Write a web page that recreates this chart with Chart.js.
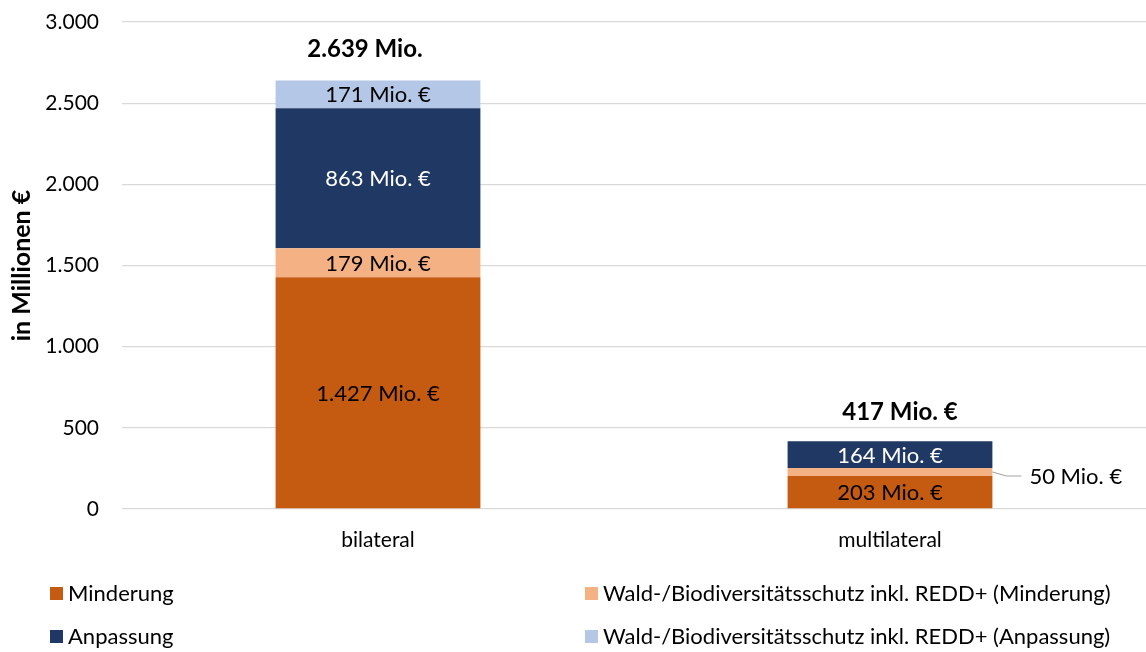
<!DOCTYPE html>
<html>
<head>
<meta charset="utf-8">
<script src="https://cdn.jsdelivr.net/npm/chart.js@4.4.1/dist/chart.umd.min.js"></script>
<style>
  html, body { margin: 0; padding: 0; background: #ffffff; }
  #wrap { width: 1146px; height: 652px; position: relative; }
</style>
</head>
<body>
<div id="wrap"><canvas id="c" width="1146" height="652"></canvas></div>
<script>
// ---- data ----
const categories = ['bilateral', 'multilateral'];
const seriesNames = [
  'Minderung',
  'Wald-/Biodiversitätsschutz inkl. REDD+ (Minderung)',
  'Anpassung',
  'Wald-/Biodiversitätsschutz inkl. REDD+ (Anpassung)'
];
const minderung = [1427, 203];
const waldMinderung = [179, 50];
const anpassung = [863, 164];
const waldAnpassung = [171, 0];
const totalLabels = ['2.639 Mio.', '417 Mio. €'];
const yTickValues = [0, 500, 1000, 1500, 2000, 2500, 3000];
const yTitle = 'in Millionen €';
const seriesColors = ['#C55A11', '#F4B183', '#203864', '#B4C7E7'];
const labelColors = ['#000000', '#000000', '#ffffff', '#000000'];

const FONT = 'Lato, Carlito, Calibri, "Open Sans", sans-serif';

function deNum(v) {
  return String(Math.round(v)).replace(/\B(?=(\d{3})+(?!\d))/g, '.');
}

const valueLabels = {
  id: 'valueLabels',
  afterDatasetsDraw(chart) {
    const ctx = chart.ctx;
    ctx.save();
    ctx.font = '22px ' + FONT;
    ctx.textAlign = 'center';
    ctx.textBaseline = 'middle';
    chart.data.datasets.forEach((ds, di) => {
      const meta = chart.getDatasetMeta(di);
      meta.data.forEach((el, i) => {
        const v = ds.data[i];
        if (!v) return;
        const h = Math.abs(el.base - el.y);
        const txt = deNum(v) + ' Mio. €';
        if (h >= 22) {
          ctx.fillStyle = labelColors[di];
          ctx.fillText(txt, el.x, (el.y + el.base) / 2 + 1);
        } else {
          const right = el.x + el.width / 2;
          const my = (el.y + el.base) / 2;
          ctx.strokeStyle = '#A6A6A6';
          ctx.lineWidth = 1.2;
          ctx.beginPath();
          ctx.moveTo(right, my);
          ctx.lineTo(right + 14, my + 4);
          ctx.lineTo(right + 29, my + 4);
          ctx.stroke();
          ctx.fillStyle = '#000000';
          ctx.textAlign = 'left';
          ctx.fillText(txt, right + 37, my + 5);
          ctx.textAlign = 'center';
        }
      });
    });
    ctx.font = 'bold 24px ' + FONT;
    ctx.fillStyle = '#000000';
    const base = chart.getDatasetMeta(0);
    categories.forEach((c, i) => {
      let topY = Infinity;
      chart.data.datasets.forEach((ds, di) => {
        const el = chart.getDatasetMeta(di).data[i];
        if (ds.data[i] > 0) topY = Math.min(topY, el.y);
      });
      const x = base.data[i].x + (i === 0 ? -13 : 10);
      ctx.fillText(totalLabels[i], x, topY - (i === 0 ? 31 : 29));
    });
    ctx.restore();
  }
};

const customLegend = {
  id: 'customLegend',
  afterDraw(chart) {
    const ctx = chart.ctx;
    ctx.save();
    ctx.font = '22px ' + FONT;
    ctx.textBaseline = 'middle';
    ctx.textAlign = 'left';
    const colX = [50, 585];
    const rowY = [594, 637];
    chart.data.datasets.forEach((ds, di) => {
      const x = colX[di % 2];
      const y = rowY[Math.floor(di / 2)];
      ctx.fillStyle = ds.backgroundColor;
      ctx.fillRect(x, y - 7, 13, 13);
      ctx.fillStyle = '#000000';
      ctx.fillText(ds.label, x + 18, y);
    });
    ctx.restore();
  }
};

const datasets = [minderung, waldMinderung, anpassung, waldAnpassung].map((arr, i) => ({
  label: seriesNames[i],
  data: arr,
  backgroundColor: seriesColors[i],
  borderWidth: 0,
  categoryPercentage: 1.0,
  barPercentage: 0.4
}));

new Chart(document.getElementById('c'), {
  type: 'bar',
  data: { labels: categories, datasets },
  options: {
    responsive: false,
    animation: false,
    layout: { padding: { top: 22, right: 0, bottom: 0, left: 0 } },
    plugins: { legend: { display: false }, tooltip: { enabled: false } },
    scales: {
      x: {
        stacked: true,
        grid: { display: false, drawTicks: false },
        border: { display: false },
        ticks: { color: '#000000', font: { family: FONT, size: 21 }, padding: 19 },
        afterFit(scale) { scale.height = 143; scale.paddingLeft = 0; scale.paddingRight = 0; }
      },
      y: {
        stacked: true,
        min: 0, max: 3000,
        afterBuildTicks(scale) { scale.ticks = yTickValues.map(v => ({ value: v })); },
        grid: { color: '#D9D9D9', lineWidth: 1.3, drawTicks: false },
        border: { display: false },
        ticks: { color: '#000000', font: { family: FONT, size: 21 }, padding: 23, callback: v => deNum(v) },
        title: { display: true, text: yTitle, color: '#000000', font: { family: FONT, size: 25, weight: 'bold' }, padding: { top: 7, bottom: 0 } },
        afterFit(scale) { scale.width = 122; scale.paddingTop = 0; scale.paddingBottom = 0; }
      }
    }
  },
  plugins: [valueLabels, customLegend]
});
</script>
</body>
</html>
